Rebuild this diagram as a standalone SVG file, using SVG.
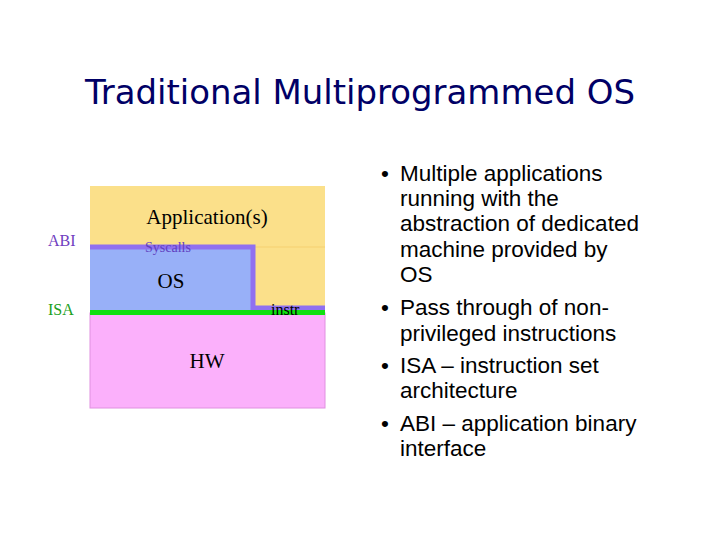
<svg xmlns="http://www.w3.org/2000/svg" width="720" height="540" viewBox="0 0 720 540">
<style>
.s{font-family:"Liberation Serif",serif;fill:#000}
.b{font-family:"Liberation Sans",Arial,sans-serif;font-size:22.5px;fill:#000}
</style>
<rect width="720" height="540" fill="#fff"/>
<text x="85" y="104" textLength="550" lengthAdjust="spacingAndGlyphs" font-family="DejaVu Sans,sans-serif" font-size="34" fill="#000066">Traditional Multiprogrammed OS</text>
<g id="app"><rect x="90" y="186" width="235" height="124" fill="#fbe08a"/><line x1="253" y1="247" x2="325" y2="247" stroke="#f5d070" stroke-width="1"/><text class="s" x="207" y="224" font-size="21" text-anchor="middle">Application(s)</text></g>
<g id="os"><rect x="90" y="247" width="163" height="63" fill="#98b0f8"/><text class="s" x="171" y="288" font-size="21" text-anchor="middle">OS</text></g>
<g id="hw"><rect x="90" y="313" width="235" height="95" fill="#fbb0fb" stroke="#e090e0" stroke-width="1"/><text class="s" x="207" y="368" font-size="21" text-anchor="middle">HW</text></g>
<g id="connectors">
<path d="M90 247 H253 V308 H325" fill="none" stroke="#9070f0" stroke-width="5"/>
<line x1="90" y1="312.5" x2="325" y2="312.5" stroke="#10e010" stroke-width="5"/>
</g>
<text class="s" x="145" y="252" font-size="14" style="fill:#6040c0">Syscalls</text>
<text class="s" x="271" y="315" font-size="16">instr</text>
<text class="s" x="48" y="246" font-size="16" style="fill:#7040c0">ABI</text>
<text class="s" x="48" y="315" font-size="16" style="fill:#20a020">ISA</text>
<g id="bullets">
<text class="b" x="381" y="181">•</text><text class="b" x="400" y="181">Multiple applications</text>
<text class="b" x="400" y="206">running with the</text>
<text class="b" x="400" y="231">abstraction of dedicated</text>
<text class="b" x="400" y="257">machine provided by</text>
<text class="b" x="400" y="282">OS</text>
<text class="b" x="381" y="315">•</text><text class="b" x="400" y="315">Pass through of non-</text>
<text class="b" x="400" y="341">privileged instructions</text>
<text class="b" x="381" y="373">•</text><text class="b" x="400" y="373">ISA – instruction set</text>
<text class="b" x="400" y="398">architecture</text>
<text class="b" x="381" y="431">•</text><text class="b" x="400" y="431">ABI – application binary</text>
<text class="b" x="400" y="456">interface</text>
</g>
</svg>
